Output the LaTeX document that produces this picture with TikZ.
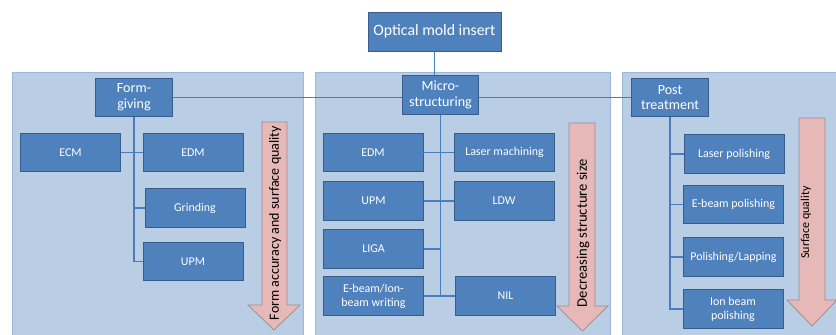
\documentclass[tikz,border=0pt]{standalone}
\usepackage{fontspec}
\setmainfont{Carlito}
\definecolor{panelfill}{HTML}{B9CDE5}
\definecolor{panelline}{HTML}{9DB7D9}
\definecolor{blockfill}{HTML}{4F81BD}
\definecolor{blockline}{HTML}{385D8A}
\definecolor{linkcol}{HTML}{4A7EBB}
\definecolor{arrowfill}{HTML}{E6B9B8}
\definecolor{arrowline}{HTML}{9C8A90}
\begin{document}
\begin{tikzpicture}[
  x=0.03cm, y=-0.03cm,
  block/.style={rectangle, draw=blockline, line width=0.7pt, fill=blockfill, text=white, minimum width=3cm, minimum height=1.15cm, font=\fontsize{10.2}{12}\selectfont, align=center, inner sep=1pt},
  head/.style={block, minimum width=2.3cm, font=\fontsize{12}{13.5}\selectfont},
  panel/.style={draw=panelline, line width=0.6pt, fill=panelfill},
  trend/.style={draw=arrowline, line width=0.6pt, fill=arrowfill},
  trendtext/.style={rotate=90, font=\fontsize{12}{14}\selectfont},
  link/.style={draw=linkcol, line width=1.1pt}
]
\useasboundingbox (0,0) rectangle (836,334);
% background panels
\draw[panel] (12,72) rectangle (303,345);
\draw[panel] (315,72) rectangle (610,345);
\draw[panel] (622,72) rectangle (850,345);

% trend arrows
\draw[trend] (262,122) -- (287,122) -- (287,305) -- (300,305) -- (274,330) -- (248,305) -- (262,305) -- cycle;
\draw[trend] (569,123) -- (595,123) -- (595,306) -- (608,306) -- (582.5,331) -- (557,306) -- (569,306) -- cycle;
\draw[trend] (799,118) -- (825,118) -- (825,300) -- (837,300) -- (812,326) -- (787,300) -- (799,300) -- cycle;
\node[trendtext] (accuracy) at (275,223) {Form accuracy and surface quality};
\node[trendtext, font=\fontsize{12.5}{14}\selectfont] (structsize) at (583,233) {Decreasing structure size};
\node[trendtext, font=\fontsize{10.3}{12}\selectfont] (quality) at (806,222.5) {Surface quality};

% top and stage nodes
\node[block, minimum width=3.99cm, minimum height=1.17cm, font=\fontsize{13.5}{15}\selectfont] (insert) at (434.5,31.5) {Optical mold insert};
\node[head] (form) at (134,97.5) {Form-\\giving};
\node[head] (micro) at (440.5,95) {Micro-\\structuring};
\node[head] (post) at (670,97.5) {Post\\treatment};

% form-giving
\node[block] (ecm) at (70.5,152.5) {ECM};
\node[block] (edmform) at (193,152.5) {EDM};
\node[block] (grinding) at (195,208) {Grinding};
\node[block] (upmform) at (193,261.5) {UPM};

% micro-structuring
\node[block] (edmmicro) at (373,152.5) {EDM};
\node[block] (upmmicro) at (373.5,201) {UPM};
\node[block] (liga) at (373.5,249) {LIGA};
\node[block] (writing) at (373.5,296) {E-beam/Ion-\\beam writing};
\node[block] (lasermach) at (504.5,152.5) {Laser machining};
\node[block] (ldw) at (504,201) {LDW};
\node[block] (nil) at (505.5,296) {NIL};

% post treatment
\node[block] (laserpol) at (734,154) {Laser polishing};
\node[block] (ebeampol) at (733.5,204.5) {E-beam polishing};
\node[block] (lapping) at (733.5,257) {Polishing/Lapping};
\node[block] (ionpol) at (733,309) {Ion beam\\polishing};

% connectors
\draw[link] (insert.south) -- (insert.south |- micro.north);
\draw[link] (form) -- (form -| micro.west);
\draw[link] (post) -- (post -| micro.east);

\draw[link] (ecm) -- (edmform);
\draw[link] (form) |- (grinding);
\draw[link] (form) |- (upmform);

\draw[link] (edmmicro) -- (lasermach);
\draw[link] (upmmicro) -- (ldw);
\draw[link] (writing) -- (nil);
\draw[link] (micro) |- (liga);
\draw[link] (micro) |- (nil);

\draw[link] (post) |- (laserpol);
\draw[link] (post) |- (ebeampol);
\draw[link] (post) |- (lapping);
\draw[link] (post) |- (ionpol);
\end{tikzpicture}
\end{document}
